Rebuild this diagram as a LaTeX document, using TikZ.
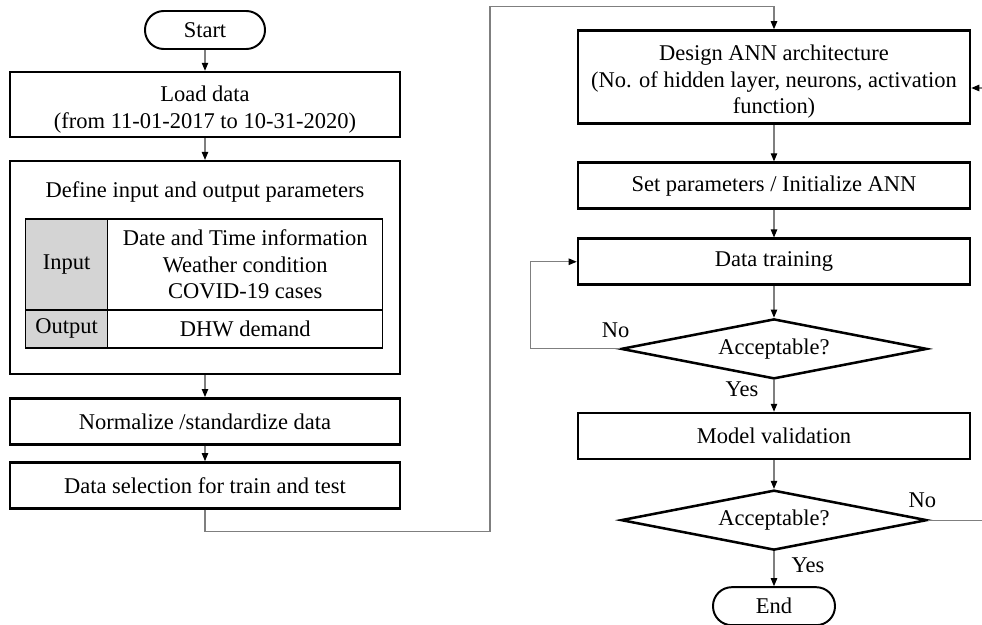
\documentclass[tikz,border=0pt]{standalone}
\usepackage{fontspec}
\setmainfont{Liberation Serif}
\usetikzlibrary{arrows.meta, positioning, shapes.geometric}
\definecolor{FlowGray}{HTML}{7F7F7F}
\definecolor{CellGray}{HTML}{D4D4D4}

\begin{document}
\begin{tikzpicture}[
    font=\fontsize{16}{19}\selectfont,
    process/.style={draw, line width=1.8pt, minimum width=9.75cm, minimum height=1.15cm, align=center, inner sep=2pt},
    terminal/.style={draw, line width=1.4pt, rounded corners=0.47cm, minimum width=3cm, minimum height=0.95cm},
    decision/.style={draw, diamond, aspect=5.1, line width=1.8pt, minimum width=7.65cm, minimum height=1.5cm, inner sep=0pt},
    cell/.style={draw, line width=1pt, align=center, inner sep=0pt, outer sep=0pt},
    arrow/.style={-{Triangle[length=2mm, width=1.6mm, black]}, line width=0.8pt, color=FlowGray},
    tag/.style={anchor=base, inner sep=0pt}
]
    \useasboundingbox (0,0) rectangle (24.55,-15.625);
    % left column
    \node[terminal] (start) at (5.125,-0.75) {Start};
    \node[process, below=0.52cm of start, minimum height=1.625cm] (load) {\rule{0pt}{18pt}Load data\\(from 11-01-2017 to 10-31-2020)};
    \node[process, below=0.54cm of load, minimum height=5.325cm] (define) {};
    \node[tag] (definetitle) at ([yshift=-0.93cm]define.north) {Define input and output parameters};
    \node[cell, fill=CellGray, anchor=north west, minimum width=2.05cm, minimum height=2.275cm] (inputkey) at ([xshift=0.425cm, yshift=-1.475cm]define.north west) {Input};
    \node[cell, right=0pt of inputkey, minimum width=6.875cm, minimum height=2.275cm] (inputval) {Date and Time information\\Weather condition\\COVID-19 cases};
    \node[cell, fill=CellGray, below=0pt of inputkey, minimum width=2.05cm, minimum height=0.95cm] (outputkey) {Output};
    \node[cell, right=0pt of outputkey, minimum width=6.875cm, minimum height=0.95cm] (outputval) {DHW demand};
    \node[process, below=0.54cm of define] (normalize) {Normalize /standardize data};
    \node[process, below=0.39cm of normalize] (select) {Data selection for train and test};

    % right column
    \node[process, minimum width=9.8cm, minimum height=2.325cm] (design) at (19.35,-1.925) {\rule{0pt}{18pt}Design ANN architecture\\(No. of hidden layer, neurons, activation\\function)};
    \node[process, below=0.915cm of design, minimum width=9.8cm] (setparam) {Set parameters / Initialize ANN};
    \node[process, below=0.69cm of setparam, minimum width=9.8cm] (train) {Data training};
    \node[decision, below=0.79cm of train] (accept1) {Acceptable?};
    \node[process, below=0.79cm of accept1, minimum width=9.8cm] (validate) {Model validation};
    \node[decision, below=0.715cm of validate] (accept2) {Acceptable?};
    \node[terminal, below=0.87cm of accept2, minimum width=3.05cm] (finish) {End};
    \coordinate (rightrail) at (24.65,0);

    % labels
    \node[tag] (no1) at ([xshift=-0.1cm, yshift=0.275cm]accept1.west) {No};
    \node[tag] (yes1) at ([xshift=-0.8cm, yshift=-0.4cm]accept1.south) {Yes};
    \node[tag] (no2) at ([xshift=-0.15cm, yshift=0.325cm]accept2.east) {No};
    \node[tag] (yes2) at ([xshift=0.85cm, yshift=-0.525cm]accept2.south) {Yes};

    \draw[arrow] (start) -- (load);
    \draw[arrow] (load) -- (define);
    \draw[arrow] (define) -- (normalize);
    \draw[arrow] (normalize) -- (select);
    \draw[arrow] (select.south) -- ++(0,-0.55) -- ++(7.125,0) |- ([yshift=0.575cm]design.north) -- (design.north);
    \draw[arrow] (design) -- (setparam);
    \draw[arrow] (setparam) -- (train);
    \draw[arrow] (train) -- (accept1);
    \draw[arrow] (accept1.west) -- ++(-2.225,0) |- (train.west);
    \draw[arrow] (accept1) -- (validate);
    \draw[arrow] (validate) -- (accept2);
    \draw[arrow] (accept2.east) -- (accept2.east -| rightrail) |- ([yshift=-0.275cm]design.east);
    \draw[arrow] (accept2) -- (finish);
\end{tikzpicture}
\end{document}
